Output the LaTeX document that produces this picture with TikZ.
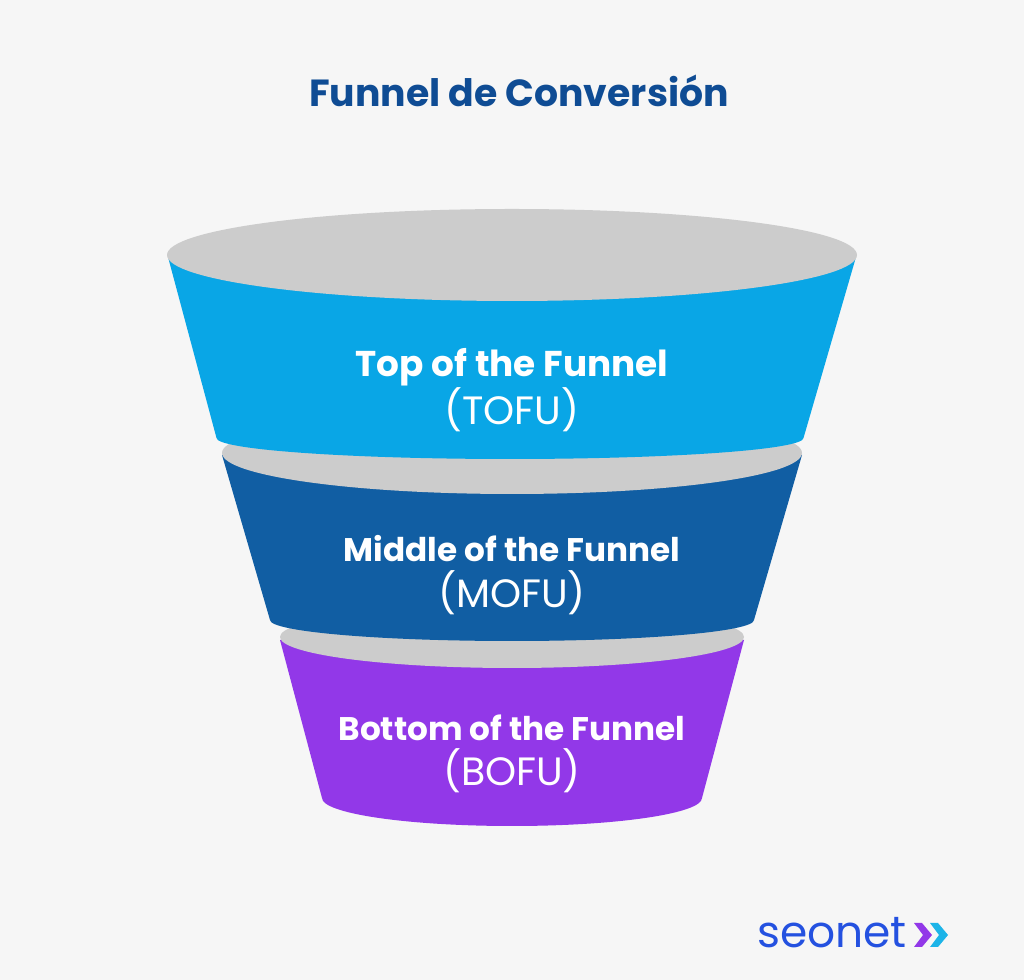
\documentclass[tikz,border=0pt]{standalone}
\usepackage{fontspec}
\setmainfont{Poppins}
\usetikzlibrary{positioning}
\definecolor{pagebg}{HTML}{F6F6F6}
\definecolor{rimgray}{HTML}{CCCCCC}
\definecolor{tofublue}{HTML}{09A6E6}
\definecolor{mofublue}{HTML}{115EA3}
\definecolor{bofupurple}{HTML}{9238E8}
\definecolor{titleblue}{HTML}{0F4C94}
\definecolor{logoblue}{HTML}{2451E0}
\definecolor{logocyan}{HTML}{1CB4E8}
\newcommand{\stagesub}[1]{{\fontsize{22.5pt}{26pt}\selectfont #1}}

\begin{document}
\begin{tikzpicture}[
        x=0.02cm, y=0.02cm,
        rim/.style={fill=rimgray},
        stage/.style={
            text=white,
            align=center,
            font=\fontsize{18.6pt}{26pt}\selectfont
        },
        heading/.style={
            text=titleblue,
            font=\fontsize{21.5pt}{24pt}\selectfont\bfseries
        },
        brand/.style={
            text=logoblue,
            inner sep=0pt,
            font=\fontsize{25pt}{26pt}\selectfont
        }
    ]

        \useasboundingbox[fill=pagebg] (0,0) rectangle (1024,980);

        % bottom stage
        \fill[bofupurple] (280,340) -- (322,182)
            arc[start angle=180, end angle=360, x radius=190, y radius=28]
            -- (744,340) -- cycle;
        \fill[rim] (512,343) ellipse[x radius=232, y radius=31];

        % middle stage
        \fill[mofublue] (222,525) -- (270,360)
            arc[start angle=180, end angle=360, x radius=242, y radius=21]
            -- (802,525) -- cycle;
        \fill[rim] (512,527) ellipse[x radius=290, y radius=41];

        % top stage
        \fill[tofublue] (168,723) -- (216.5,542)
            arc[start angle=180, end angle=360, x radius=293.5, y radius=21]
            -- (856,723) -- cycle;
        \fill[rim] (512,725) ellipse[x radius=345, y radius=46];

        \node[heading] (title) at (519,889) {Funnel de Conversión};

        \node[stage] (tofu) at (512,590)
            {{\fontsize{20.4pt}{26pt}\selectfont\bfseries Top of the Funnel}\\\stagesub{(TOFU)}};
        \node[stage] (mofu) at (512,405) {\textbf{Middle of the Funnel}\\\stagesub{(MOFU)}};
        \node[stage] (bofu) at (512,226) {\textbf{Bottom of the Funnel}\\\stagesub{(BOFU)}};

        \node[brand, anchor=base west] (logo) at (757,32) {seonet};

        % chevrons
        \fill[bofupurple] (914,57) -- (922,57) -- (932,45) -- (922,33) -- (914,33) -- (923,45) -- cycle;
        \fill[logocyan] (930,57) -- (938,57) -- (948,45) -- (938,33) -- (930,33) -- (939,45) -- cycle;

    \end{tikzpicture}
\end{document}
